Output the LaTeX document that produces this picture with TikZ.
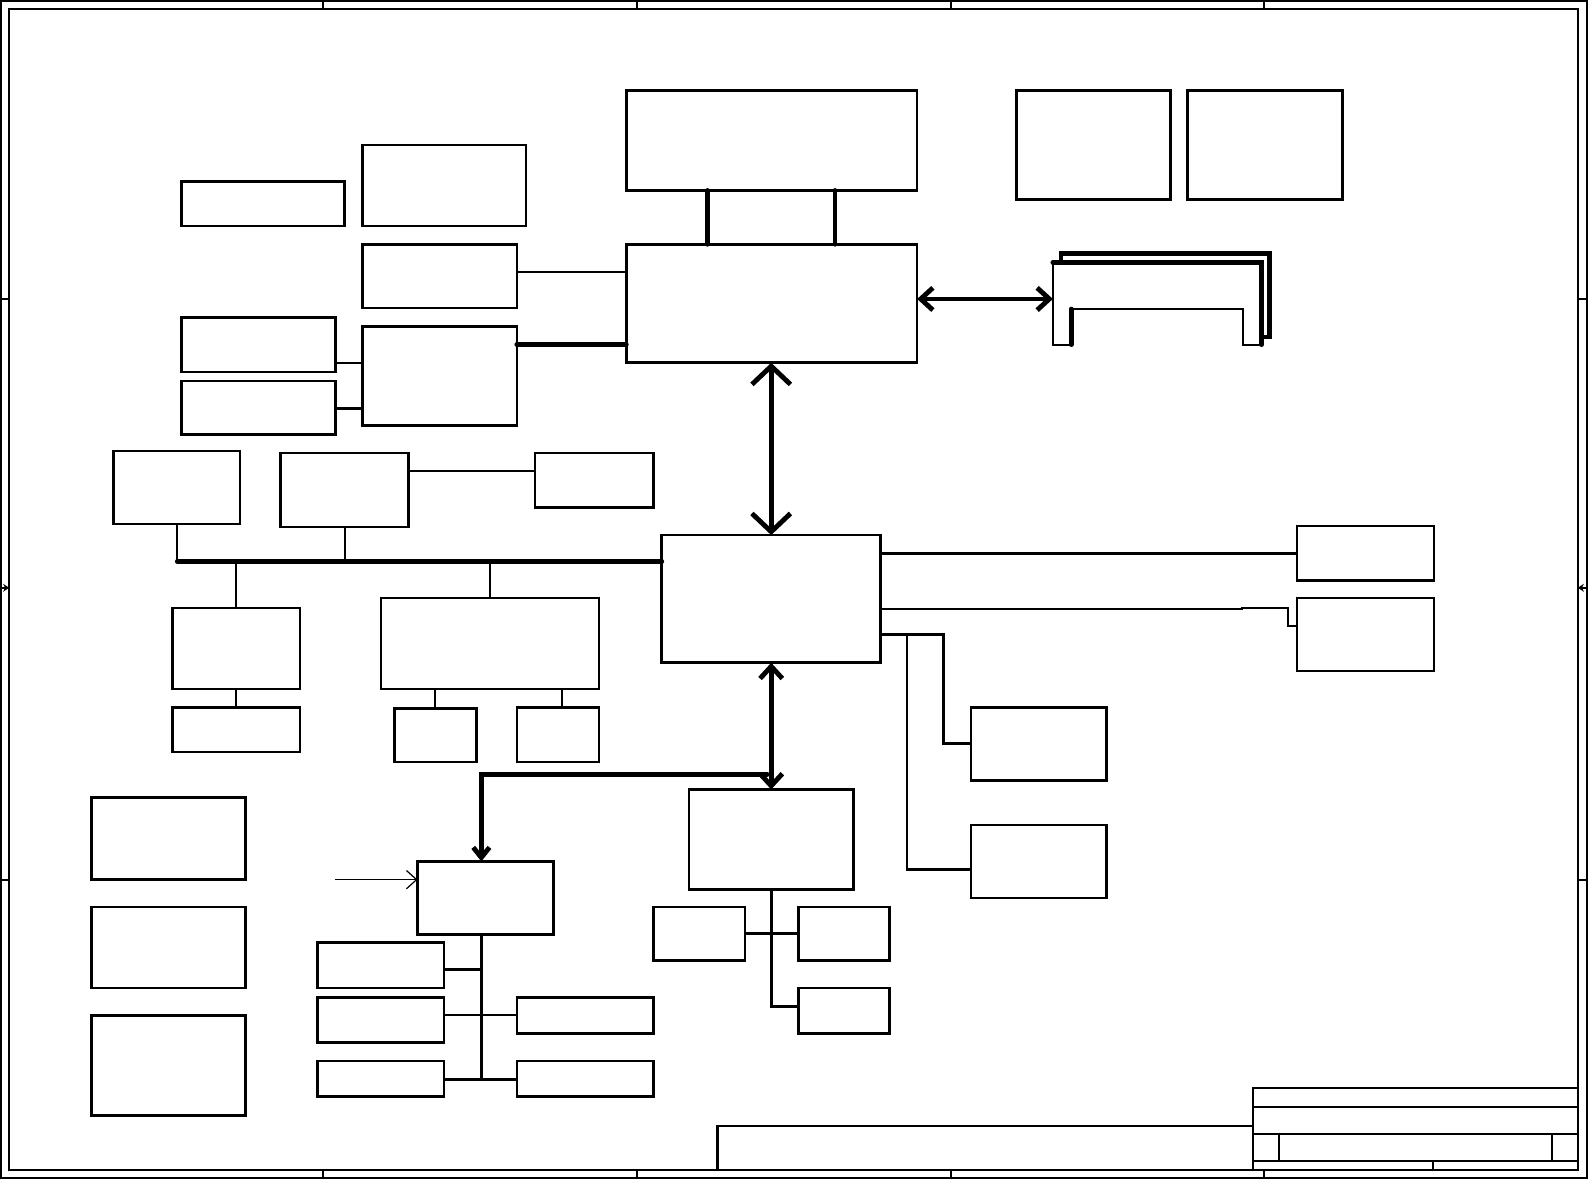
\documentclass[tikz,border=0pt]{standalone}
\usetikzlibrary{arrows.meta,fit}
\begin{document}
\begin{tikzpicture}[x=0.5pt,y=-0.5pt,
  box/.style={draw, line width=1.3pt, inner sep=0pt, outer sep=0pt},
  thinln/.style={line width=1pt},
  midln/.style={line width=1.4pt},
  busln/.style={line width=2.4pt, line cap=round},
  frameln/.style={line width=1pt},
  bigbarb/.style={{Straight Barb[length=9pt,width=19pt]}-{Straight Barb[length=9pt,width=19pt]}},
  medbarb/.style={{Straight Barb[length=6pt,width=11pt]}-{Straight Barb[length=6pt,width=11pt]}},
  smbarb/.style={-{Straight Barb[length=5pt,width=8pt]}},
  thinarrow/.style={-{Straight Barb[length=5pt,width=9pt,line width=0.6pt]}, line width=0.6pt},
]
\useasboundingbox (0,0) rectangle (1568,1164);

% ---------- frame ----------
\draw[frameln] (0.5,0.5) rectangle (1566,1162.5);
\draw[frameln] (9,9) rectangle (1557,1154.5);
\foreach \xx in {319,629,938,1247}{
  \draw[frameln] (\xx,0.5) -- (\xx,9);
  \draw[frameln] (\xx,1154.5) -- (\xx,1162.5);
}
\foreach \yy in {295,868}{
  \draw[frameln] (0.5,\yy) -- (9,\yy);
  \draw[frameln] (1557,\yy) -- (1566,\yy);
}
\draw[frameln,-{Stealth[length=3pt,width=4pt]}] (0.5,580) -- (9,580);
\draw[frameln,-{Stealth[length=3pt,width=4pt]}] (1566,580) -- (1557,580);

% ---------- title block ----------
\draw[frameln] (1236,1074) rectangle (1557,1154.5);
\draw[frameln] (1236,1092.7) -- (1557,1092.7);
\draw[frameln] (1236,1119.3) -- (1557,1119.3);
\draw[frameln] (1236,1145.7) -- (1557,1145.7);
\draw[frameln] (1262.4,1119.3) -- (1262.4,1145.7);
\draw[frameln] (1531.2,1119.3) -- (1531.2,1145.7);
\draw[frameln] (1414.4,1145.7) -- (1414.4,1154.5);
\draw[frameln] (708,1154.5) -- (708,1110.8) -- (1236,1110.8);

% ---------- boxes ----------
\node[box, fit={(618,89) (905,188)}] (cpu) {};
\node[box, fit={(1003,89) (1155,197)}] (b1) {};
\node[box, fit={(1172,89) (1325,197)}] (b2) {};
\node[box, fit={(179,179) (340,223)}] (d) {};
\node[box, fit={(358,143) (519,223)}] (e) {};
\node[box, fit={(358,241) (510,304)}] (f) {};
\node[box, fit={(618,241) (905,358)}] (nb) {};
\node[box, fit={(179,313) (331,367)}] (h) {};
\node[box, fit={(179,376) (331,429)}] (i) {};
\node[box, fit={(358,322) (510,420)}] (j) {};
\node[box, fit={(112,445) (237,517)}] (l) {};
\node[box, fit={(277,447) (403,520)}] (m) {};
\node[box, fit={(528,447) (645,501)}] (n) {};
\node[box, fit={(653,528) (869,654)}] (sb) {};
\node[box, fit={(170,600) (296,680)}] (o) {};
\node[box, fit={(376,590) (591,680)}] (p) {};
\node[box, fit={(170,698) (296,742)}] (q) {};
\node[box, fit={(389,699) (470,752)}] (r) {};
\node[box, fit={(510,698) (591,752)}] (s) {};
\node[box, fit={(1280,519) (1415,573)}] (t) {};
\node[box, fit={(1280,590) (1415,662)}] (u) {};
\node[box, fit={(958,698) (1092,770)}] (v) {};
\node[box, fit={(958,814) (1092,886)}] (w) {};
\node[box, fit={(680,779) (842,878)}] (xb) {};
\node[box, fit={(412,850) (546,922)}] (yb) {};
\node[box, fit={(90,787) (242,868)}] (z1) {};
\node[box, fit={(90,895) (242,975)}] (z2) {};
\node[box, fit={(90,1002) (242,1101)}] (z3) {};
\node[box, fit={(313,930) (438,975)}] (aa) {};
\node[box, fit={(313,984) (438,1029)}] (ab) {};
\node[box, fit={(510,984) (645,1020)}] (ac) {};
\node[box, fit={(313,1047) (438,1082)}] (ad) {};
\node[box, fit={(510,1047) (645,1082)}] (ae) {};
\node[box, fit={(645,895) (735,948)}] (af) {};
\node[box, fit={(788,895) (878,948)}] (ag) {};
\node[box, fit={(788,975) (878,1020)}] (ah) {};

% ---------- memory slot outline ----------
\coordinate (memin) at (1039,295);
\draw[busln] (1047,259) -- (1047,250) -- (1253,250) -- (1253,332.5) -- (1246,332.5);
\draw[busln] (1039,259) -- (1245,259) -- (1245,340);
\draw[thinln] (1039,259) -- (1039,340) -- (1057,340);
\draw[busln] (1057,340) -- (1057,305);
\draw[thinln] (1057,305) -- (1227,305) -- (1227,340) -- (1245,340);

% ---------- connectors ----------
\draw[busln] (cpu.south -| 698,0) -- (nb.north -| 698,0);
\draw[busln] (cpu.south -| 824,0) -- (nb.north -| 824,0);
\draw[thinln] (f.east |- 0,268) -- (nb.west |- 0,268);
\draw[busln] (j.east |- 0,340) -- (nb.west |- 0,340);
\draw[thinln] (h.east |- 0,358) -- (j.west |- 0,358);
\draw[midln] (i.east |- 0,403) -- (j.west |- 0,403);
\draw[busln,medbarb] (nb.east |- memin) -- (memin);
\draw[busln,bigbarb] (nb.south -| 761,0) -- (sb.north -| 761,0);
\draw[thinln] (m.east |- 0,465) -- (n.west |- 0,465);

\coordinate (busL) at (175,554);
\draw[busln] (busL) -- (sb.west |- busL);
\draw[thinln] (l.south -| busL) -- (busL);
\draw[thinln] (m.south) -- (m.south |- busL);
\draw[thinln] (o.north) -- (o.north |- busL);
\draw[thinln] (p.north) -- (p.north |- busL);
\draw[thinln] (o.south) -- (q.north);
\draw[thinln] (p.south -| r.north) -- (r.north);
\draw[thinln] (p.south -| 555,0) -- (s.north -| 555,0);

\draw[midln] (sb.east |- 0,546) -- (t.west |- 0,546);
\draw[thinln] (sb.east |- 0,601) -- (1225.6,601) -- (1225.6,599.7) -- (1271,599.7) -- (1271,617.4) -- (u.west |- 0,617.4);
\draw[midln] (sb.east |- 0,626) -- (931,626) -- (931,734) -- (v.west |- 0,734);
\draw[midln] (895,626) -- (895,858) -- (w.west |- 0,858);

\draw[busln,medbarb] (sb.south -| 761,0) -- (xb.north -| 761,0);
\draw[busln,smbarb] (757,764) -- (475,764) -- (yb.north -| 475,0);
\coordinate (yin) at (331,868);
\draw[thinarrow] (yin) -- (yb.west |- yin);

\draw[midln] (yb.south -| 475,0) -- (475,1065);
\draw[midln] (aa.east |- 0,957) -- (475,957);
\draw[thinln] (ab.east |- 0,1002) -- (ac.west |- 0,1002);
\draw[midln] (ad.east |- 0,1065) -- (ae.west |- 0,1065);

\draw[midln] (xb.south -| 761,0) -- (761,993) -- (ah.west |- 0,993);
\draw[midln] (af.east |- 0,921) -- (ag.west |- 0,921);
\end{tikzpicture}
\end{document}
